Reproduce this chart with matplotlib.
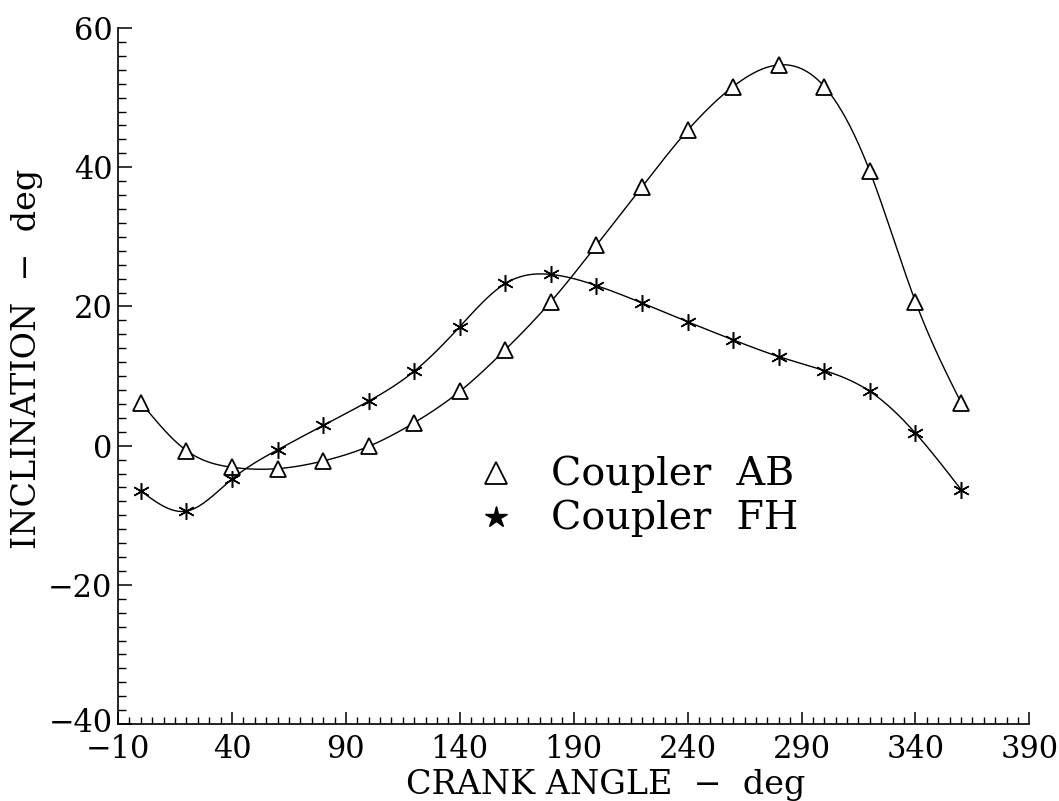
import numpy as np
import matplotlib
matplotlib.use("Agg")
import matplotlib.pyplot as plt
import matplotlib.transforms as mtransforms
from matplotlib.ticker import MultipleLocator

plt.rcParams['font.family'] = ['DejaVu Serif']

crank = [0, 20, 40, 60, 80, 100, 120, 140, 160, 180, 200, 220, 240, 260, 280, 300, 320, 340, 360]
coupler_ab = [6.2, -0.7, -3.1, -3.3, -2.2, -0.1, 3.3, 7.8, 13.8, 20.7, 28.8, 37.2, 45.3, 51.6, 54.7, 51.6, 39.4, 20.7, 6.2]
coupler_fh = [-6.5, -9.4, -4.8, -0.6, 2.9, 6.4, 10.7, 17.1, 23.3, 24.6, 23.0, 20.5, 17.8, 15.2, 12.8, 10.8, 7.8, 1.8, -6.3]
x_ticks = [-10, 40, 90, 140, 190, 240, 290, 340, 390]
y_ticks = [-40, -20, 0, 20, 40, 60]


def spline(x, y, n=600):
    # natural cubic spline, just for drawing the smooth curve
    x = np.asarray(x, float)
    y = np.asarray(y, float)
    k = len(x)
    h = np.diff(x)
    A = np.zeros((k, k))
    b = np.zeros(k)
    A[0, 0] = A[-1, -1] = 1
    for i in range(1, k - 1):
        A[i, i - 1] = h[i - 1]
        A[i, i] = 2 * (h[i - 1] + h[i])
        A[i, i + 1] = h[i]
        b[i] = 6 * ((y[i + 1] - y[i]) / h[i] - (y[i] - y[i - 1]) / h[i - 1])
    M = np.linalg.solve(A, b)
    xs = np.linspace(x[0], x[-1], n)
    j = np.clip(np.searchsorted(x, xs) - 1, 0, k - 2)
    t0 = xs - x[j]
    t1 = x[j + 1] - xs
    hj = h[j]
    ys = (M[j] * t1 ** 3 + M[j + 1] * t0 ** 3) / (6 * hj) \
        + (y[j] / hj - M[j] * hj / 6) * t1 + (y[j + 1] / hj - M[j + 1] * hj / 6) * t0
    return xs, ys


fig = plt.figure(figsize=(10.59, 8.01), dpi=100)
ax = fig.add_axes([0.1115, 0.096, 0.8605, 0.869])

for ys, mk, ms, mew in [(coupler_ab, '^', 11, 1.3), (coupler_fh, (6, 2, 0), 12, 1.1)]:
    sx, sy = spline(crank, ys)
    ax.plot(sx, sy, color='black', lw=1.0)
    ax.plot(crank, ys, ls='none', marker=mk, ms=ms, mfc='white' if mk == '^' else 'black',
            mec='black', mew=mew)

ax.set_xlim(-10, 390)
ax.set_ylim(-40, 60)
ax.set_xticks(x_ticks)
ax.set_yticks(y_ticks)
ax.xaxis.set_minor_locator(MultipleLocator(5))
ax.yaxis.set_minor_locator(MultipleLocator(2))
ax.spines['top'].set_visible(False)
ax.spines['right'].set_visible(False)
ax.spines['left'].set_linewidth(1.2)
ax.spines['bottom'].set_linewidth(1.2)
ax.tick_params(axis='x', which='major', direction='in', length=9, width=1.1, labelsize=22, pad=7)
ax.tick_params(axis='x', which='minor', direction='in', length=5, width=1.0)
ax.tick_params(axis='y', which='major', direction='in', length=10, width=1.1, labelsize=22, pad=4)
ax.tick_params(axis='y', which='minor', direction='in', length=6, width=1.0)

# nudge the -40 label up a little so it clears the -10 label
lbl = ax.get_yticklabels()[0]
lbl.set_transform(lbl.get_transform() + mtransforms.ScaledTranslation(0, 3 / 72, fig.dpi_scale_trans))

ax.set_xlabel('CRANK ANGLE  \u2212  deg', fontsize=24)
ax.set_ylabel('INCLINATION  \u2212  deg', fontsize=24)
ax.xaxis.set_label_coords(0.535, -0.065)
ax.yaxis.set_label_coords(-0.082, 0.525)

# legend drawn by hand like the original
ax.plot([156], [-3.9], ls='none', marker='^', ms=16, mfc='white', mec='black', mew=1.3)
ax.plot([156], [-10.2], ls='none', marker='*', ms=16, color='black')
ax.text(180, -4.1, 'Coupler  AB', fontsize=28.5, va='center', ha='left')
ax.text(180, -10.4, 'Coupler  FH', fontsize=28.5, va='center', ha='left')

fig.savefig('out.png', dpi=100)
